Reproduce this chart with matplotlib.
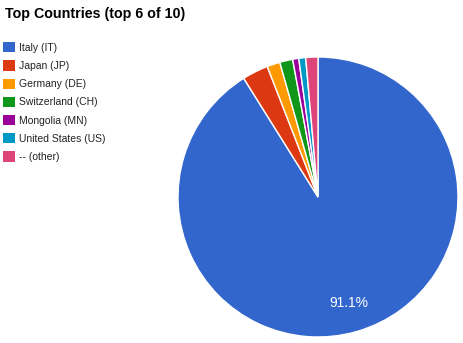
import matplotlib.pyplot as plt
from matplotlib.patches import Patch

# data
countries = ['Italy (IT)', 'Japan (JP)', 'Germany (DE)', 'Switzerland (CH)',
             'Mongolia (MN)', 'United States (US)', '-- (other)']
shares = [91.1, 3.0, 1.5, 1.5, 0.7, 0.8, 1.4]
colors = ['#3366cc', '#dc3912', '#ff9900', '#109618', '#990099', '#0099c6', '#dd4477']

plt.rcParams['font.family'] = ['Liberation Sans', 'DejaVu Sans']

fig = plt.figure(figsize=(4.63, 3.43), dpi=100, facecolor='w')
ax = fig.add_axes([178 / 463, 6 / 343, 280 / 463, 280 / 343])

wedges, texts, autotexts = ax.pie(
    shares, colors=colors, startangle=90, counterclock=False,
    autopct=lambda p: '%.1f%%' % p if p > 5 else '', pctdistance=0.79,
    wedgeprops=dict(edgecolor='white', linewidth=1.0),
    textprops=dict(color='white', fontsize=10))
ax.set_aspect('equal')
ax.set_xlim(-1, 1)
ax.set_ylim(-1, 1)

fig.text(5 / 463, 1 - 14 / 343, 'Top Countries (top 6 of 10)', fontsize=10.3,
         fontweight='bold', va='center', ha='left', color='#000000')

handles = [Patch(facecolor=c, edgecolor='none') for c in colors]
fig.legend(handles, countries, loc='upper left', bbox_to_anchor=(0.0, 1 - 39 / 343),
           frameon=False, fontsize=7.5, handlelength=1.15, handleheight=1.15,
           handletextpad=0.4, labelspacing=0.72, borderpad=0.3, borderaxespad=0,
           labelcolor='#222222')

fig.savefig('out.png', dpi=100, facecolor=fig.get_facecolor())
